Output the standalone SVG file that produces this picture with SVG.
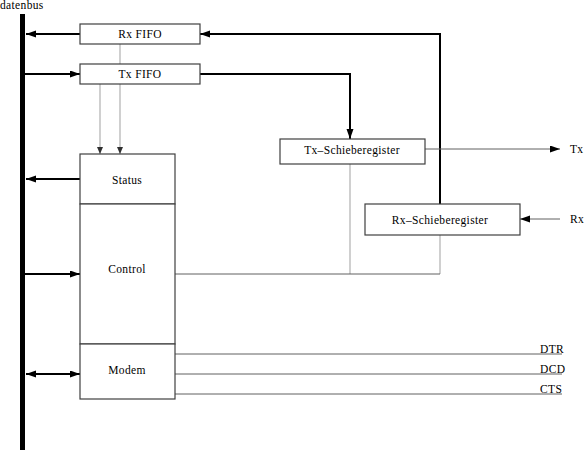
<svg xmlns="http://www.w3.org/2000/svg" width="584" height="450" viewBox="0 0 584 450">
<style>
.box{fill:#fff;stroke:#404040;stroke-width:1.2}
.t{font-family:"Liberation Serif","Times New Roman",serif;font-size:11.5px;letter-spacing:0.35px;fill:#000}
.m{text-anchor:middle}
.thick{fill:none;stroke:#000;stroke-width:2}
.thin{fill:none;stroke:#606060;stroke-width:1}
.gray{fill:none;stroke:#b0b0b0;stroke-width:1.2}
</style>
<defs>
<marker id="ah" markerUnits="userSpaceOnUse" markerWidth="11" markerHeight="8" refX="10" refY="3.5" orient="auto-start-reverse">
<path d="M0,0 L10,3.5 L0,7 z" fill="#000"/>
</marker>
<marker id="as" markerUnits="userSpaceOnUse" markerWidth="8" markerHeight="8" refX="7" refY="3" orient="auto">
<path d="M0,0 L7,3 L0,6 z" fill="#303030"/>
</marker>
</defs>
<text class="t" x="0" y="9">datenbus</text>
<rect id="bus" x="20" y="14" width="5" height="436" fill="#000"/>
<g id="connectors">
<line class="thick" x1="80" y1="34" x2="26" y2="34" marker-end="url(#ah)"/>
<line class="thick" x1="25" y1="74" x2="80" y2="74" marker-end="url(#ah)"/>
<line class="thick" x1="80" y1="179" x2="26" y2="179" marker-end="url(#ah)"/>
<line class="thick" x1="25" y1="274" x2="80" y2="274" marker-end="url(#ah)"/>
<line class="thick" x1="26" y1="374" x2="80" y2="374" marker-start="url(#ah)" marker-end="url(#ah)"/>
<line class="gray" x1="120" y1="44" x2="120" y2="64"/>
<line class="gray" x1="100" y1="84" x2="100" y2="154" marker-end="url(#as)"/>
<line class="gray" x1="120" y1="84" x2="120" y2="154" marker-end="url(#as)"/>
<polyline class="thick" points="200,74 350,74 350,139" marker-end="url(#ah)"/>
<polyline class="thick" points="440,204 440,34 200,34" marker-end="url(#ah)"/>
<line class="thin" x1="425" y1="149" x2="560" y2="149" marker-end="url(#ah)"/>
<line class="thin" x1="560" y1="219" x2="520" y2="219" marker-end="url(#ah)"/>
<line class="gray" x1="350" y1="164" x2="350" y2="274"/>
<line class="gray" x1="440" y1="235" x2="440" y2="274"/>
<line class="thin" x1="175" y1="274" x2="440" y2="274"/>
<line class="thin" x1="175" y1="354" x2="562" y2="354"/>
<line class="thin" x1="175" y1="374" x2="562" y2="374"/>
<line class="thin" x1="175" y1="394" x2="562" y2="394"/>
</g>
<g id="rxfifo">
<rect class="box" x="80" y="24" width="120" height="20"/>
<text class="t m" x="140" y="38">Rx FIFO</text>
</g>
<g id="txfifo">
<rect class="box" x="80" y="64" width="120" height="20"/>
<text class="t m" x="140" y="78">Tx FIFO</text>
</g>
<g id="status">
<rect class="box" x="80" y="154" width="95" height="50"/>
<text class="t m" x="127" y="184">Status</text>
</g>
<g id="control">
<rect class="box" x="80" y="204" width="95" height="140"/>
<text class="t m" x="127" y="273">Control</text>
</g>
<g id="modem">
<rect class="box" x="80" y="344" width="95" height="55"/>
<text class="t m" x="127" y="374">Modem</text>
</g>
<g id="txschiebe">
<rect class="box" x="280" y="139" width="145" height="25"/>
<text class="t m" x="352" y="154">Tx–Schieberegister</text>
</g>
<g id="rxschiebe">
<rect class="box" x="365" y="204" width="155" height="31"/>
<text class="t m" x="440" y="224">Rx–Schieberegister</text>
</g>
<g id="labels">
<text class="t" x="570" y="153">Tx</text>
<text class="t" x="570" y="223">Rx</text>
<text class="t" x="540" y="353">DTR</text>
<text class="t" x="540" y="373">DCD</text>
<text class="t" x="540" y="393">CTS</text>
</g>
</svg>
